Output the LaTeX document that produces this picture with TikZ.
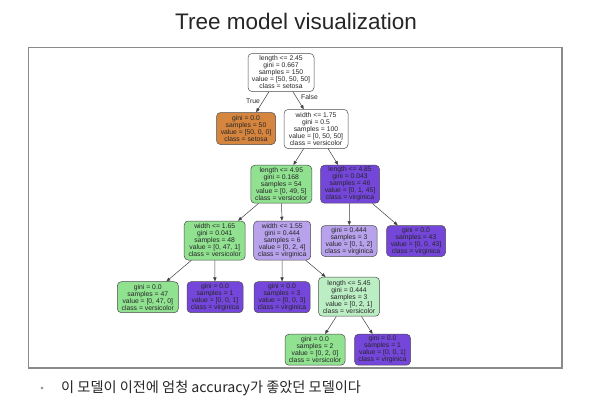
\documentclass[tikz,border=0pt]{standalone}
\usepackage{fontspec}
\setmainfont{Liberation Sans}
\newfontfamily\krfont{Noto Sans CJK KR}
\usetikzlibrary{arrows.meta}
\definecolor{cOrange}{HTML}{D6853F}
\definecolor{cGreen}{HTML}{90E190}
\definecolor{cGreenL}{HTML}{BCEEC4}
\definecolor{cPurple}{HTML}{7446DA}
\definecolor{cPurpleL}{HTML}{B8A2EC}
\definecolor{cFrame}{HTML}{8A8A8A}
\tikzset{
  tn/.style={draw=black!70, line width=0.5pt, rounded corners=4pt, align=center,
    inner sep=0.5pt, font=\fontsize{6.8}{7}\selectfont, text=black!85},
  five/.style={tn, minimum height=38pt},
  four/.style={tn, minimum height=31pt},
  edge/.style={draw=black!75, line width=0.5pt, -{Triangle[length=4pt,width=3.2pt]}},
  elab/.style={font=\fontsize{6.8}{7}\selectfont, text=black!85, inner sep=0pt}
}
\begin{document}
\begin{tikzpicture}[x=1pt,y=-1pt]
\useasboundingbox (0,0) rectangle (597,410);
\fill[white] (0,0) rectangle (597,410);
% title
\node (title) at (296,21) {\fontsize{22.5}{26}\selectfont\color{black!85}Tree model visualization};
% frame
\draw[cFrame, line width=1.1pt] (28.7,47.7) rectangle (562,368);
% nodes
\node[five, fill=white, minimum width=66pt] (root) at (281,72.5) {length <= 2.45\\gini = 0.667\\samples = 150\\value = [50, 50, 50]\\class = setosa};
\node[four, fill=cOrange, minimum width=59pt, minimum height=32pt] (n1) at (246,128.5) {gini = 0.0\\samples = 50\\value = [50, 0, 0]\\class = setosa};
\node[five, fill=white, minimum width=64pt, minimum height=39pt] (n2) at (316,129) {width <= 1.75\\gini = 0.5\\samples = 100\\value = [0, 50, 50]\\class = versicolor};
\node[five, fill=cGreen, minimum width=61pt] (n3) at (281.3,184.2) {length <= 4.95\\gini = 0.168\\samples = 54\\value = [0, 49, 5]\\class = versicolor};
\node[five, fill=cPurple, minimum width=59pt] (n4) at (350,184.2) {length <= 4.85\\gini = 0.043\\samples = 46\\value = [0, 1, 45]\\class = virginica};
\node[five, fill=cGreen, minimum width=61pt, minimum height=39pt] (n5) at (214.7,240.5) {width <= 1.65\\gini = 0.041\\samples = 48\\value = [0, 47, 1]\\class = versicolor};
\node[five, fill=cPurpleL, minimum width=57pt, minimum height=39pt] (n6) at (282.2,240.5) {width <= 1.55\\gini = 0.444\\samples = 6\\value = [0, 2, 4]\\class = virginica};
\node[four, fill=cPurpleL, minimum width=56pt] (n7) at (349,241) {gini = 0.444\\samples = 3\\value = [0, 1, 2]\\class = virginica};
\node[four, fill=cPurple, minimum width=59pt] (n8) at (416,241) {gini = 0.0\\samples = 43\\value = [0, 0, 43]\\class = virginica};
\node[four, fill=cGreen, minimum width=61pt] (n9) at (147.8,297.2) {gini = 0.0\\samples = 47\\value = [0, 47, 0]\\class = versicolor};
\node[four, fill=cPurple, minimum width=56pt] (n10) at (215,297.2) {gini = 0.0\\samples = 1\\value = [0, 0, 1]\\class = virginica};
\node[four, fill=cPurple, minimum width=56pt] (n11) at (282,297.2) {gini = 0.0\\samples = 3\\value = [0, 0, 3]\\class = virginica};
\node[five, fill=cGreenL, minimum width=61pt, minimum height=39pt] (n12) at (349,296.7) {length <= 5.45\\gini = 0.444\\samples = 3\\value = [0, 2, 1]\\class = versicolor};
\node[four, fill=cGreen, minimum width=60pt] (n13) at (315,349.7) {gini = 0.0\\samples = 2\\value = [0, 2, 0]\\class = versicolor};
\node[four, fill=cPurple, minimum width=56pt] (n14) at (382.5,349.7) {gini = 0.0\\samples = 1\\value = [0, 0, 1]\\class = virginica};
% edges
\draw[edge] (root) -- (n1);
\draw[edge] (root) -- (n2);
\draw[edge] (n2) -- (n3);
\draw[edge] (n2) -- (n4);
\draw[edge] (n3) -- (n5);
\draw[edge] (n3) -- (n6);
\draw[edge] (n4) -- (n7);
\draw[edge] (n4) -- (n8);
\draw[edge] (n5) -- (n9);
\draw[edge] (n5) -- (n10);
\draw[edge] (n6) -- (n11);
\draw[edge] (n6) -- (n12);
\draw[edge] (n12) -- (n13);
\draw[edge] (n12) -- (n14);
% edge labels
\node[elab] (ltrue) at (253,101) {True};
\node[elab] (lfalse) at (309.5,97.5) {False};
% bullet
\fill[black!45] (42,388) circle (1.3);
\node[anchor=west, inner sep=0pt, text=black!85] (bullet) at (61,388) {\krfont\fontsize{14.2}{17}\selectfont 이 모델이 이전에 엄청 accuracy가 좋았던 모델이다};
\end{tikzpicture}
\end{document}
